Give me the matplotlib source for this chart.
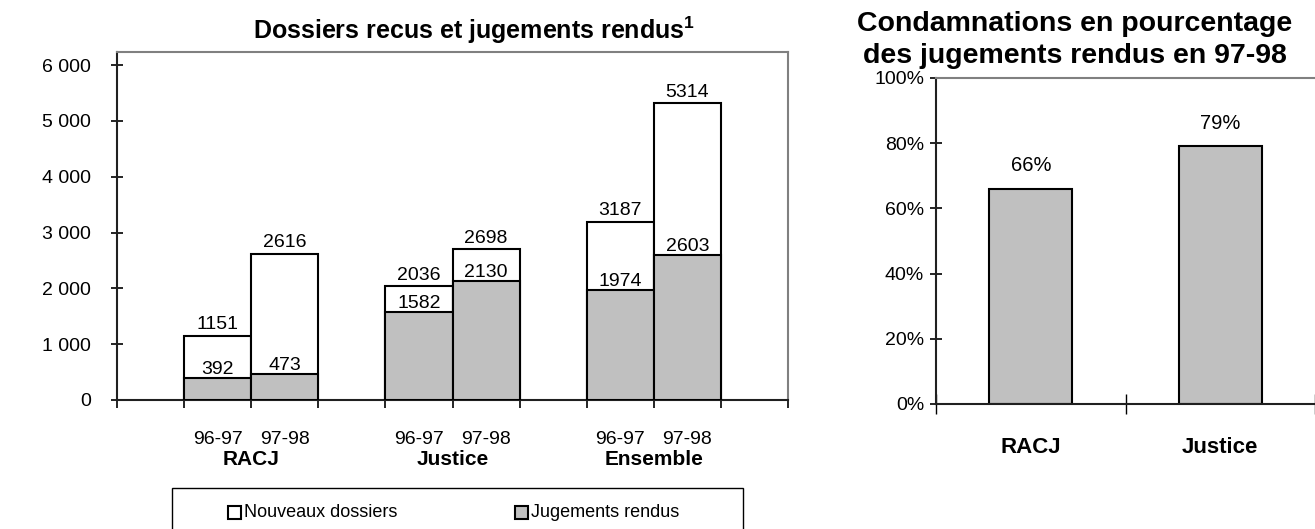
import matplotlib
matplotlib.use("Agg")
import matplotlib.pyplot as plt
from matplotlib.patches import Rectangle
from matplotlib.ticker import FuncFormatter, FixedLocator

plt.rcParams['font.family'] = ['Liberation Sans', 'DejaVu Sans']
plt.rcParams['mathtext.fontset'] = 'custom'
plt.rcParams['mathtext.rm'] = 'Liberation Sans:bold'
plt.rcParams['mathtext.bf'] = 'Liberation Sans:bold'

# ---------------- data ----------------
groups = ['RACJ', 'Justice', 'Ensemble']
years = ['96-97', '97-98']
nouveaux = [1151, 2616, 2036, 2698, 3187, 5314]
jugements = [392, 473, 1582, 2130, 1974, 2603]
series_names = ['Nouveaux dossiers', 'Jugements rendus']
series_colors = ['white', '#C0C0C0']

pct_cats = ['RACJ', 'Justice']
pct_vals = [0.66, 0.79]
pct_labels = ['66%', '79%']
yticks_left = [0, 1000, 2000, 3000, 4000, 5000, 6000]
yticks_right = [0, 0.2, 0.4, 0.6, 0.8, 1.0]

W, H = 1315, 529
fig = plt.figure(figsize=(W / 100, H / 100), dpi=100)

def fx(px):
    return px / W

def fy(py):
    return (H - py) / H

FS = 14
GRAY = '#808080'
EDGE = 'black'

# ---------------- left chart ----------------
axL = fig.add_axes([fx(117), fy(400), fx(788) - fx(117), fy(52) - fy(400)])
xpos = []
for g in range(len(groups)):
    for y in range(len(years)):
        xpos.append(3 * g + 1 + y)

axL.bar(xpos, nouveaux, width=1.0, color=series_colors[0], edgecolor=EDGE, linewidth=1.5, zorder=2)
axL.bar(xpos, jugements, width=1.0, color=series_colors[1], edgecolor=EDGE, linewidth=1.5, zorder=3)
for x, v in zip(xpos, nouveaux):
    axL.annotate(str(v), (x, v), xytext=(0, 2), textcoords='offset points',
                 ha='center', va='bottom', fontsize=FS, zorder=5)
for x, v in zip(xpos, jugements):
    axL.annotate(str(v), (x, v), xytext=(0, 0), textcoords='offset points',
                 ha='center', va='bottom', fontsize=FS, zorder=5)

axL.set_xlim(-0.5, 9.5)
axL.set_ylim(0, 6233)
axL.set_yticks(yticks_left)
axL.yaxis.set_major_formatter(FuncFormatter(lambda v, p: f"{int(v):,}".replace(',', ' ')))
axL.tick_params(axis='y', direction='inout', length=9, width=1.2, labelsize=FS, pad=14)
axL.xaxis.set_major_locator(FixedLocator([i - 0.5 for i in range(11)]))
axL.xaxis.set_major_formatter(FuncFormatter(lambda v, p: ''))
axL.tick_params(axis='x', which='major', direction='out', length=6, width=1.2)
axL.xaxis.set_minor_locator(FixedLocator(xpos))
axL.set_xticklabels([years[i % 2] for i in range(len(xpos))], minor=True)
axL.tick_params(axis='x', which='minor', length=0, labelsize=FS, pad=22)
for g, name in enumerate(groups):
    axL.text(3 * g + 1.5, -0.145, name, transform=axL.get_xaxis_transform(),
             ha='center', va='top', fontsize=FS + 1, fontweight='bold')
for s in ['top', 'right']:
    axL.spines[s].set_color(GRAY)
    axL.spines[s].set_linewidth(1.5)
for s in ['left', 'bottom']:
    axL.spines[s].set_color('#202020')
    axL.spines[s].set_linewidth(1.5)

fig.text(fx(474), fy(30), 'Dossiers recus et jugements rendus$^{1}$',
         ha='center', va='center', fontsize=18, fontweight='bold')

# legend (manual box, clipped at bottom like the original)
fig.patches.append(Rectangle((fx(172), fy(545)), fx(743) - fx(172), fy(488) - fy(545),
                             transform=fig.transFigure, facecolor='white',
                             edgecolor='black', linewidth=1.0))
for hx, name, col in zip([228, 515], series_names, series_colors):
    fig.patches.append(Rectangle((fx(hx), fy(519)), fx(13), fy(506) - fy(519),
                                 transform=fig.transFigure, facecolor=col,
                                 edgecolor='black', linewidth=1.5))
    fig.text(fx(hx + 16), fy(512.5), name, ha='left', va='center', fontsize=13)

# ---------------- right chart ----------------
axR = fig.add_axes([fx(936), fy(404), 1.0 - fx(936), fy(78) - fy(404)])
xr = list(range(len(pct_cats)))
axR.bar(xr, pct_vals, width=0.44, color='#C0C0C0', edgecolor=EDGE, linewidth=1.5, zorder=2)
for x, v, lab in zip(xr, pct_vals, pct_labels):
    axR.annotate(lab, (x, v), xytext=(0, 10), textcoords='offset points',
                 ha='center', va='bottom', fontsize=FS + 0.5)
axR.set_xlim(-0.5, 1.5)
axR.set_ylim(0, 1)
axR.set_yticks(yticks_right)
axR.yaxis.set_major_formatter(FuncFormatter(lambda v, p: f"{int(round(v * 100))}%"))
axR.tick_params(axis='y', direction='inout', length=9, width=1.2, labelsize=FS, pad=4)
axR.xaxis.set_major_locator(FixedLocator([-0.5, 0.5, 1.5]))
axR.xaxis.set_major_formatter(FuncFormatter(lambda v, p: ''))
axR.tick_params(axis='x', which='major', direction='inout', length=14, width=1.0)
axR.xaxis.set_minor_locator(FixedLocator(xr))
axR.set_xticklabels(pct_cats, minor=True, fontweight='bold')
axR.tick_params(axis='x', which='minor', length=0, labelsize=16, pad=24)
axR.spines['right'].set_visible(False)
axR.spines['top'].set_color(GRAY)
axR.spines['top'].set_linewidth(1.5)
for s in ['left', 'bottom']:
    axR.spines[s].set_color('#202020')
    axR.spines[s].set_linewidth(1.5)

fig.text(fx(1075), fy(40), 'Condamnations en pourcentage\ndes jugements rendus en 97-98',
         ha='center', va='center', fontsize=20.5, fontweight='bold', linespacing=1.3)

fig.savefig('out.png', dpi=100)
